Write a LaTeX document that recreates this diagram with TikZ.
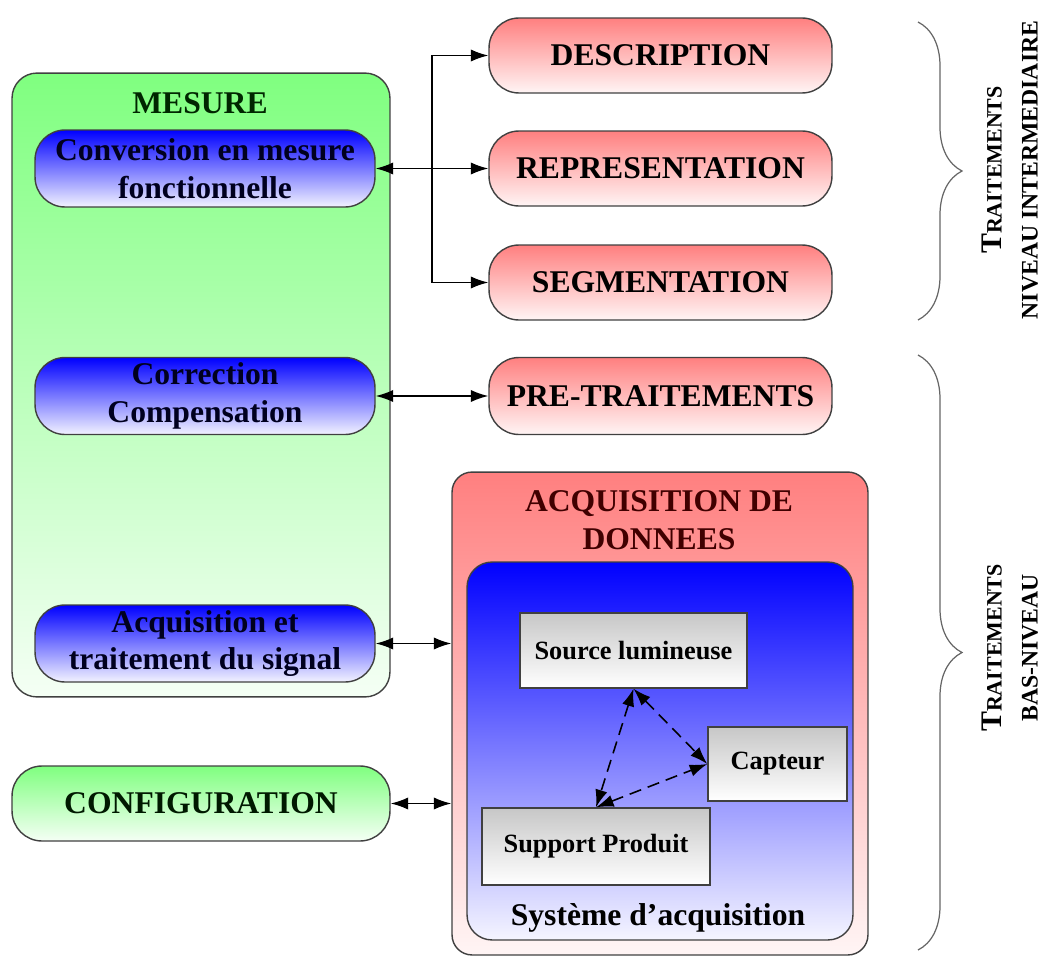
\documentclass[tikz,border=0pt]{standalone}
\usepackage{fontspec}
\setmainfont{Liberation Serif}
\usetikzlibrary{arrows.meta,decorations.pathreplacing}

\begin{document}
\begin{tikzpicture}[x=0.02cm, y=-0.02cm, >={Latex[length=10pt,width=7pt]},
    box/.style={draw=black!75, line width=0.8pt, align=center, inner sep=0pt, font=\bfseries\fontsize{18}{21.5}\selectfont},
    big box/.style={box, rounded corners=0.5cm},
    pill/.style={box, rounded corners=0.6cm, minimum width=6.86cm, minimum height=1.5cm},
    green node/.style={top color=green!50, bottom color=green!4, text=green!10!black},
    red node/.style={top color=red!50, bottom color=red!4},
    blue node/.style={top color=blue, bottom color=blue!5, text=blue!12!black, minimum width=6.8cm, minimum height=1.54cm},
    grey node/.style={box, top color=black!22, bottom color=white, font=\bfseries\fontsize{15}{18}\selectfont},
    title/.style={font=\bfseries\fontsize{18}{21.5}\selectfont, align=center},
    link/.style={line width=0.9pt},
    dashed link/.style={line width=0.9pt, dash pattern=on 7pt off 4pt},
    accolade/.style={decorate, decoration={brace, amplitude=0.88cm}, draw=black!60, line width=0.7pt},
    side label/.style={rotate=90, font=\bfseries\fontsize{13.5}{16}\selectfont}]

    \useasboundingbox (0, 0) rectangle (1048, 963);

    % mesure
    \node[big box, green node, minimum width=7.56cm, minimum height=12.48cm] at (201, 385) (mesure) {};
    \node[title, text=green!15!black] at (200, 103) (mesuretitle) {MESURE};
    \node[pill, blue node] at (205, 168.5) (conv) {Conversion en mesure\\fonctionnelle};
    \node[pill, blue node] at (205, 396) (corr) {Correction\\Compensation};
    \node[pill, blue node] at (205, 643.5) (signal) {Acquisition et\\traitement du signal};
    \node[pill, green node, minimum width=7.56cm] at (201, 803.5) (config) {CONFIGURATION};

    % traitements
    \node[pill, red node] at (660.5, 55.5) (desc) {DESCRIPTION};
    \node[pill, red node] at (660.5, 168.5) (repr) {REPRESENTATION};
    \node[pill, red node] at (660.5, 282.5) (seg) {SEGMENTATION};
    \node[pill, red node, minimum height=1.54cm] at (660.5, 396) (pre) {PRE-TRAITEMENTS};

    % acquisition
    \node[big box, red node, rounded corners=0.4cm, minimum width=8.32cm, minimum height=9.66cm] at (660, 713.5) (acq) {};
    \node[title, text=red!25!black] at (659, 520) (acqtitle) {ACQUISITION DE\\DONNEES};
    \node[big box, top color=blue, bottom color=blue!4, minimum width=7.72cm, minimum height=7.56cm] at (660, 751) (systeme) {};
    \node[title] at (658, 918) (systemetitle) {Système d'acquisition};
    \node[grey node, minimum width=4.54cm, minimum height=1.5cm] at (633.5, 650.5) (source) {Source lumineuse};
    \node[grey node, minimum width=2.78cm, minimum height=1.48cm] at (777.5, 764) (capteur) {Capteur};
    \node[grey node, minimum width=4.56cm, minimum height=1.54cm] at (596, 846.5) (support) {Support Produit};

    \coordinate (hub) at (432, 168.5);

    \draw[link, <-] (conv) -- (hub);
    \draw[link, ->] (hub) |- (desc);
    \draw[link, ->] (hub) -- (repr);
    \draw[link, ->] (hub) |- (seg);
    \path[link, <->] (corr) edge (pre);
    \draw[link, <->] (signal.east) -- (signal.east -| acq.west);
    \draw[link, <->] (config.east) -- (config.east -| acq.west);

    \path[dashed link, <->] (source.south) edge (capteur.west);
    \path[dashed link, <->] (source.south) edge (support.north);
    \path[dashed link, <->] (support.north) edge (capteur.west);

    % accolades
    \draw[accolade] (918, 22) -- (918, 320);
    \draw[accolade] (918, 355) -- (918, 950);
    \node[side label] at (992, 170) (trait1) {{\fontsize{17}{17}\selectfont T}{\fontsize{12.5}{15}\selectfont RAITEMENTS}};
    \node[side label] at (1030, 170) (niveau1) {NIVEAU INTERMEDIAIRE};
    \node[side label] at (992, 648) (trait2) {{\fontsize{17}{17}\selectfont T}{\fontsize{12.5}{15}\selectfont RAITEMENTS}};
    \node[side label] at (1030, 648) (niveau2) {BAS-NIVEAU};

\end{tikzpicture}
\end{document}
